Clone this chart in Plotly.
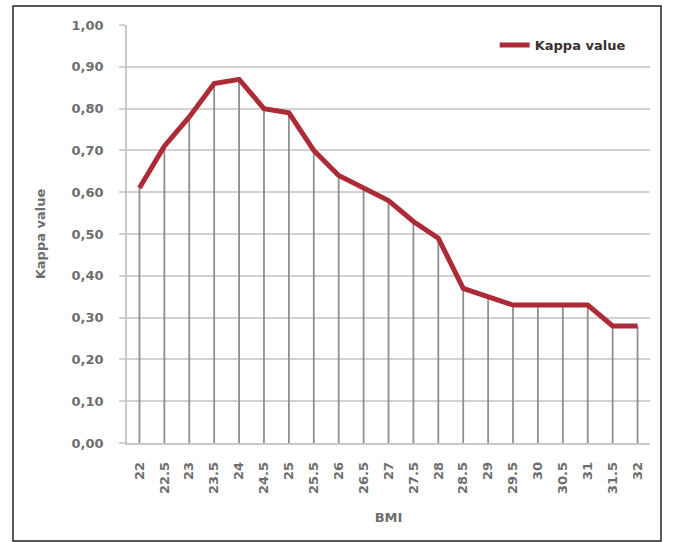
import plotly.graph_objects as go

# BMI cut-off values and the agreement (kappa) at each cut-off
bmi = ["22", "22.5", "23", "23.5", "24", "24.5", "25", "25.5", "26", "26.5", "27",
       "27.5", "28", "28.5", "29", "29.5", "30", "30.5", "31", "31.5", "32"]
kappa = [0.61, 0.71, 0.78, 0.86, 0.87, 0.80, 0.79, 0.70, 0.64, 0.61, 0.58,
         0.53, 0.49, 0.37, 0.35, 0.33, 0.33, 0.33, 0.33, 0.28, 0.28]
y_ticks = [0.0, 0.1, 0.2, 0.3, 0.4, 0.5, 0.6, 0.7, 0.8, 0.9, 1.0]
y_tick_labels = ["0,00", "0,10", "0,20", "0,30", "0,40", "0,50",
                 "0,60", "0,70", "0,80", "0,90", "1,00"]

W, H = 673, 542
M_L, M_R, M_T, M_B = 127, 23, 25, 99
FONT = "DejaVu Sans"
GRAY = "#6e6e6e"

fig = go.Figure()

fig.add_trace(go.Scatter(
    x=bmi, y=kappa, mode="lines", name="Kappa value",
    line=dict(color="#ad2b36", width=5),
    # drop lines from each point to the axis
    error_y=dict(type="data", symmetric=False, array=[0] * len(kappa),
                 arrayminus=kappa, width=0, color="#8f8f8f", thickness=1.8),
))

fig.update_layout(
    width=W, height=H,
    margin=dict(l=M_L, r=M_R, t=M_T, b=M_B),
    paper_bgcolor="white", plot_bgcolor="white",
    font=dict(family=FONT, size=13, color=GRAY, weight="bold"),
    showlegend=True,
    legend=dict(x=0.703, y=0.988, xanchor="left", yanchor="top",
                bgcolor="rgba(0,0,0,0)",
                font=dict(family=FONT, size=13, color="#3a3030", weight="bold")),
    xaxis=dict(
        type="category", range=[-0.5, len(bmi) - 0.5],
        tickangle=-90, showgrid=False,
        showline=True, linecolor="#c8c8c8", linewidth=1.5,
        ticks="", ticklabelstandoff=12,
        tickfont=dict(family=FONT, size=13, color=GRAY, weight="bold"),
        title=dict(text="BMI", font=dict(family=FONT, size=13, color=GRAY, weight="bold"),
                   standoff=20),
    ),
    yaxis=dict(
        range=[0, 1.0], tickvals=y_ticks, ticktext=y_tick_labels,
        showgrid=True, gridcolor="#d2d2d2", gridwidth=1.5,
        showline=True, linecolor="#c8c8c8", linewidth=1.5,
        ticks="outside", ticklen=6, tickcolor="#d2d2d2", tickwidth=1.5,
        ticklabelstandoff=13,
        zeroline=False,
        tickfont=dict(family=FONT, size=13, color=GRAY, weight="bold"),
        title=dict(text="Kappa value",
                   font=dict(family=FONT, size=13, color=GRAY, weight="bold"),
                   standoff=23),
    ),
)

# outer frame around the whole chart
pw = W - M_L - M_R
ph = H - M_T - M_B
def px_x(v):
    return (v - M_L) / pw
def px_y(v):
    return (H - M_B - v) / ph

fig.add_shape(type="rect", xref="paper", yref="paper",
              x0=px_x(13), x1=px_x(661), y0=px_y(541), y1=px_y(6),
              line=dict(color="#222222", width=1.5), fillcolor="rgba(0,0,0,0)",
              layer="above")

fig.write_html("out.html")
